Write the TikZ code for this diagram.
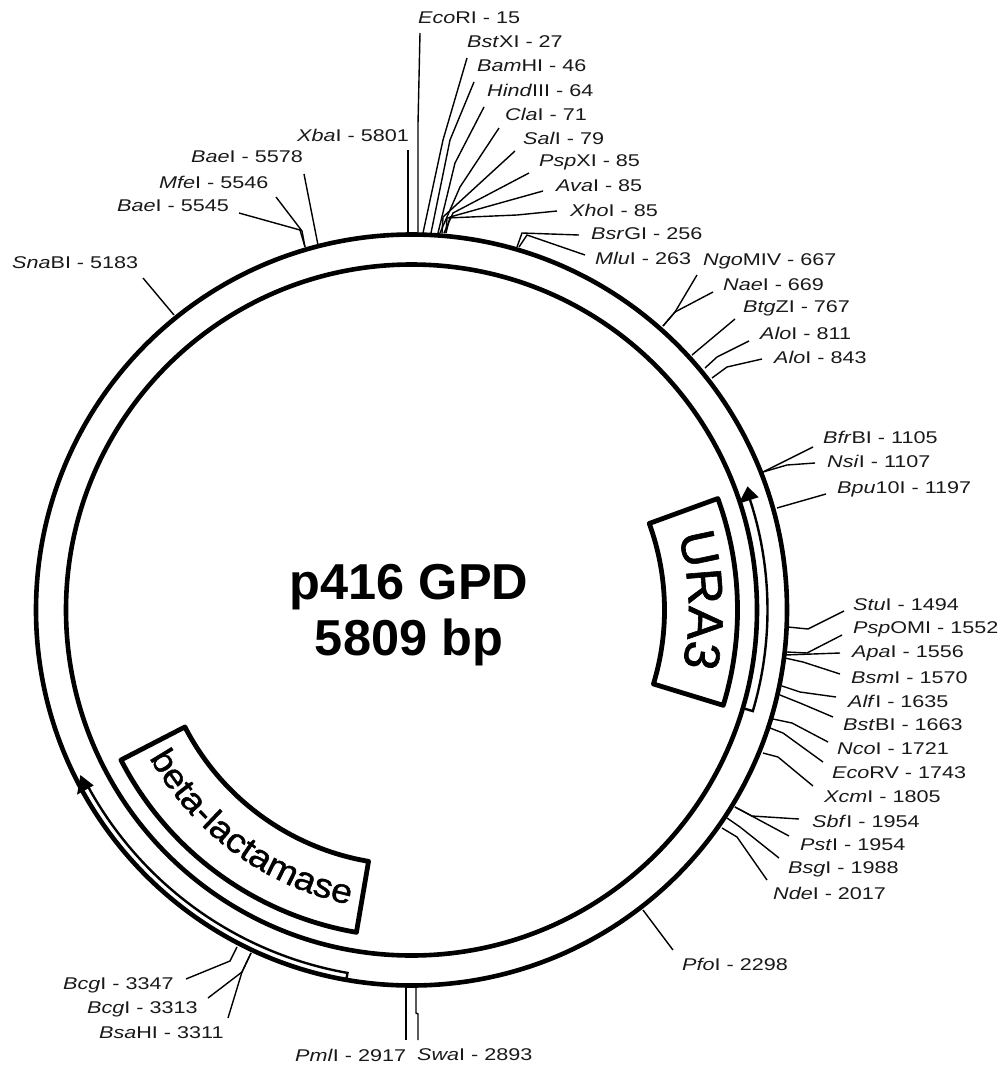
\documentclass[tikz,border=0pt]{standalone}
\usepackage{fontspec}
\setmainfont{Liberation Sans}
\newfontfamily\sitefont[FakeStretch=1.27]{Liberation Sans}
\newfontfamily\genefamily[FakeBold=1.2]{Liberation Sans}
\newfontfamily\lactfamily[FakeBold=1.2,FakeStretch=1.1]{Liberation Sans}
\usetikzlibrary{decorations.text}
\newcommand{\genefont}{\genefamily\fontsize{50}{50}\selectfont}
\newcommand{\lactfont}{\lactfamily\fontsize{34}{34}\selectfont}
\tikzset{
    ring/.style={line width=4.6pt},
    genebox/.style={line width=4.8pt,line join=round},
    strand/.style={line width=2.4pt},
    leader/.style={line width=1.4pt},
    sitelabel/.style={anchor=west,inner sep=0pt,font=\sitefont\fontsize{17}{18}\selectfont,text=black!90},
    plasmid/.style={align=center,inner sep=0pt,font=\bfseries\fontsize{50.5}{56}\selectfont}
}

\begin{document}
\begin{tikzpicture}[x=1pt,y=1pt]
        \useasboundingbox (0,0) rectangle (999,-1066);
        \begin{scope}[shift={(411.5,-610)}]
            \draw[ring] (0,0) circle [radius=375.5]; \draw[ring] (0,0) circle [radius=345.5];

            \draw[genebox] (20:253) arc [start angle=20,end angle=-17,radius=253] -- (-17:326) arc [start angle=-17,end angle=20,radius=326] -- cycle;
            \draw[strand] (18:356) arc [start angle=18,end angle=-16.5,radius=356] -- (-16.5:346); \fill (20.2:358) -- (18:344) -- (18:365) -- cycle;
            \path[decorate,decoration={text along path,text align=center,text={|\genefont|URA3}}] (18:277) arc [start angle=18,end angle=-14,radius=277];

            \draw[genebox] (207.3:255) arc [start angle=207.3,end angle=260.3,radius=255] -- (260.3:327) arc [start angle=260.3,end angle=207.3,radius=327] -- cycle;
            \draw[strand] (208.5:368.5) arc [start angle=208.5,end angle=260,radius=368.5] -- (260:374); \fill (206.5:370) -- (208.9:363) -- (208.9:382) -- cycle;
            \path[decorate,decoration={text along path,text align=center,text={|\lactfont|beta-lactamase}}] (207:301) arc [start angle=207,end angle=260.5,radius=301];
        \end{scope}

        \node[plasmid] (title) at (409,-615) {p416 GPD\\5809 bp};

        % top of the ring
        \node[sitelabel] (EcoRI) at (418,-18) {\textit{Eco}RI - 15}; \coordinate (EcoRIa) at (418,-235); \coordinate (EcoRIb) at (418,-124); \coordinate (EcoRIc) at (420,-33); \draw[leader] (EcoRIa) -- (EcoRIb) -- (EcoRIc);
        \node[sitelabel] (BstXI) at (467,-42) {\textit{Bst}XI - 27}; \coordinate (BstXIa) at (423,-233); \coordinate (BstXIb) at (443,-140); \coordinate (BstXIc) at (467,-58); \draw[leader] (BstXIa) -- (BstXIb) -- (BstXIc);
        \node[sitelabel] (BamHI) at (477,-66) {\textit{Bam}HI - 46}; \coordinate (BamHIa) at (431,-233); \coordinate (BamHIb) at (450,-140); \coordinate (BamHIc) at (474,-82); \draw[leader] (BamHIa) -- (BamHIb) -- (BamHIc);
        \node[sitelabel] (HindIII) at (487,-90) {\textit{Hind}III - 64}; \coordinate (HindIIIa) at (438,-233); \coordinate (HindIIIb) at (455,-163); \coordinate (HindIIIc) at (484,-107); \draw[leader] (HindIIIa) -- (HindIIIb) -- (HindIIIc);
        \node[sitelabel] (ClaI) at (505,-114) {\textit{Cla}I - 71}; \coordinate (ClaIa) at (440,-233); \coordinate (ClaIb) at (460,-187); \coordinate (ClaIc) at (499,-128); \draw[leader] (ClaIa) -- (ClaIb) -- (ClaIc);
        \node[sitelabel] (SalI) at (523,-138) {\textit{Sal}I - 79}; \coordinate (SalIa) at (442,-233); \coordinate (SalIb) at (443,-217); \coordinate (SalIc) at (515,-151); \draw[leader] (SalIa) -- (SalIb) -- (SalIc);
        \node[sitelabel] (PspXI) at (539,-162) {\textit{Psp}XI - 85}; \coordinate (PspXIa) at (444,-233); \coordinate (PspXIb) at (453,-213); \coordinate (PspXIc) at (529,-173); \draw[leader] (PspXIa) -- (PspXIb) -- (PspXIc);
        \node[sitelabel] (AvaI) at (556,-186) {\textit{Ava}I - 85}; \coordinate (AvaIa) at (446,-233); \coordinate (AvaIb) at (450,-217); \coordinate (AvaIc) at (543,-191); \draw[leader] (AvaIa) -- (AvaIb) -- (AvaIc);
        \node[sitelabel] (XhoI) at (570,-210) {\textit{Xho}I - 85}; \coordinate (XhoIa) at (446,-233); \coordinate (XhoIb) at (447,-218); \coordinate (XhoIc) at (517,-215); \coordinate (XhoId) at (557,-211); \draw[leader] (XhoIa) -- (XhoIb) -- (XhoIc) -- (XhoId);
        \node[sitelabel] (BsrGI) at (591,-234) {\textit{Bsr}GI - 256}; \coordinate (BsrGIa) at (517,-247); \coordinate (BsrGIb) at (522,-233); \coordinate (BsrGIc) at (579,-235); \draw[leader] (BsrGIa) -- (BsrGIb) -- (BsrGIc);
        \node[sitelabel] (MluI) at (595,-258) {\textit{Mlu}I - 263}; \coordinate (MluIa) at (519,-247); \coordinate (MluIb) at (527,-235); \coordinate (MluIc) at (585,-255); \draw[leader] (MluIa) -- (MluIb) -- (MluIc);
        \node[sitelabel] (XbaI) at (297,-135) {\textit{Xba}I - 5801}; \coordinate (XbaIa) at (408,-234); \coordinate (XbaIb) at (408,-150); \draw[leader] (XbaIa) -- (XbaIb);
        \node[sitelabel] (BaeIb) at (191,-157) {\textit{Bae}I - 5578}; \coordinate (BaeIba) at (318,-245); \coordinate (BaeIbb) at (304,-174); \draw[leader] (BaeIba) -- (BaeIbb);
        \node[sitelabel] (MfeI) at (159,-182) {\textit{Mfe}I - 5546}; \coordinate (MfeIa) at (305,-247); \coordinate (MfeIb) at (302,-231); \coordinate (MfeIc) at (276,-197); \draw[leader] (MfeIa) -- (MfeIb) -- (MfeIc);
        \node[sitelabel] (BaeIa) at (117,-206) {\textit{Bae}I - 5545}; \coordinate (BaeIaa) at (305,-247); \coordinate (BaeIab) at (300,-230); \coordinate (BaeIac) at (239,-213); \draw[leader] (BaeIaa) -- (BaeIab) -- (BaeIac);
        \node[sitelabel] (SnaBI) at (12,-263) {\textit{Sna}BI - 5183}; \coordinate (SnaBIa) at (174,-315); \coordinate (SnaBIb) at (143,-278); \draw[leader] (SnaBIa) -- (SnaBIb);

        % right side
        \node[sitelabel] (NgoMIV) at (703,-261) {\textit{Ngo}MIV - 667}; \coordinate (NgoMIVa) at (663,-326); \coordinate (NgoMIVb) at (675,-312); \coordinate (NgoMIVc) at (697,-275); \draw[leader] (NgoMIVa) -- (NgoMIVb) -- (NgoMIVc);
        \node[sitelabel] (NaeI) at (723,-285) {\textit{Nae}I - 669}; \coordinate (NaeIa) at (663,-326); \coordinate (NaeIb) at (675,-312); \coordinate (NaeIc) at (713,-292); \draw[leader] (NaeIa) -- (NaeIb) -- (NaeIc);
        \node[sitelabel] (BtgZI) at (743,-308) {\textit{Btg}ZI - 767}; \coordinate (BtgZIa) at (692,-355); \coordinate (BtgZIb) at (735,-319); \draw[leader] (BtgZIa) -- (BtgZIb);
        \node[sitelabel] (AloIa) at (760,-333) {\textit{Alo}I - 811}; \coordinate (AloIaa) at (705,-368); \coordinate (AloIab) at (717,-357); \coordinate (AloIac) at (749,-341); \draw[leader] (AloIaa) -- (AloIab) -- (AloIac);
        \node[sitelabel] (AloIb) at (774,-357) {\textit{Alo}I - 843}; \coordinate (AloIba) at (712,-378); \coordinate (AloIbb) at (727,-367); \coordinate (AloIbc) at (762,-359); \draw[leader] (AloIba) -- (AloIbb) -- (AloIbc);
        \node[sitelabel] (BfrBI) at (823,-437) {\textit{Bfr}BI - 1105}; \coordinate (BfrBIa) at (763,-472); \coordinate (BfrBIb) at (813,-447); \draw[leader] (BfrBIa) -- (BfrBIb);
        \node[sitelabel] (NsiI) at (827,-461) {\textit{Nsi}I - 1107}; \coordinate (NsiIa) at (763,-472); \coordinate (NsiIb) at (787,-465); \coordinate (NsiIc) at (815,-463); \draw[leader] (NsiIa) -- (NsiIb) -- (NsiIc);
        \node[sitelabel] (Bpu10I) at (837,-489) {\textit{Bpu}10I - 1197}; \coordinate (Bpu10Ia) at (777,-508); \coordinate (Bpu10Ib) at (826,-494); \draw[leader] (Bpu10Ia) -- (Bpu10Ib);
        \node[sitelabel] (StuI) at (853,-605) {\textit{Stu}I - 1494}; \coordinate (StuIa) at (788,-627); \coordinate (StuIb) at (808,-629); \coordinate (StuIc) at (844,-611); \draw[leader] (StuIa) -- (StuIb) -- (StuIc);
        \node[sitelabel] (PspOMI) at (853,-629) {\textit{Psp}OMI - 1552}; \coordinate (PspOMIa) at (787,-652); \coordinate (PspOMIb) at (807,-653); \coordinate (PspOMIc) at (842,-635); \draw[leader] (PspOMIa) -- (PspOMIb) -- (PspOMIc);
        \node[sitelabel] (ApaI) at (852,-653) {\textit{Apa}I - 1556}; \coordinate (ApaIa) at (785,-655); \coordinate (ApaIb) at (840,-653); \draw[leader] (ApaIa) -- (ApaIb);
        \node[sitelabel] (BsmI) at (851,-678) {\textit{Bsm}I - 1570}; \coordinate (BsmIa) at (785,-658); \coordinate (BsmIb) at (803,-662); \coordinate (BsmIc) at (840,-674); \draw[leader] (BsmIa) -- (BsmIb) -- (BsmIc);
        \node[sitelabel] (AlfI) at (848,-701) {\textit{Alf}I - 1635}; \coordinate (AlfIa) at (782,-686); \coordinate (AlfIb) at (800,-692); \coordinate (AlfIc) at (836,-697); \draw[leader] (AlfIa) -- (AlfIb) -- (AlfIc);
        \node[sitelabel] (BstBI) at (843,-725) {\textit{Bst}BI - 1663}; \coordinate (BstBIa) at (780,-695); \coordinate (BstBIb) at (800,-703); \coordinate (BstBIc) at (833,-717); \draw[leader] (BstBIa) -- (BstBIb) -- (BstBIc);
        \node[sitelabel] (NcoI) at (837,-749) {\textit{Nco}I - 1721}; \coordinate (NcoIa) at (773,-719); \coordinate (NcoIb) at (792,-723); \coordinate (NcoIc) at (828,-742); \draw[leader] (NcoIa) -- (NcoIb) -- (NcoIc);
        \node[sitelabel] (EcoRV) at (832,-773) {\textit{Eco}RV - 1743}; \coordinate (EcoRVa) at (770,-728); \coordinate (EcoRVb) at (783,-733); \coordinate (EcoRVc) at (823,-762); \draw[leader] (EcoRVa) -- (EcoRVb) -- (EcoRVc);
        \node[sitelabel] (XcmI) at (824,-797) {\textit{Xcm}I - 1805}; \coordinate (XcmIa) at (763,-753); \coordinate (XcmIb) at (778,-757); \coordinate (XcmIc) at (813,-786); \draw[leader] (XcmIa) -- (XcmIb) -- (XcmIc);
        \node[sitelabel] (SbfI) at (812,-821) {\textit{Sbf}I - 1954}; \coordinate (SbfIa) at (735,-807); \coordinate (SbfIb) at (752,-816); \coordinate (SbfIc) at (799,-819); \draw[leader] (SbfIa) -- (SbfIb) -- (SbfIc);
        \node[sitelabel] (PstI) at (800,-845) {\textit{Pst}I - 1954}; \coordinate (PstIa) at (735,-807); \coordinate (PstIb) at (789,-836); \draw[leader] (PstIa) -- (PstIb);
        \node[sitelabel] (BsgI) at (788,-869) {\textit{Bsg}I - 1988}; \coordinate (BsgIa) at (727,-818); \coordinate (BsgIb) at (740,-827); \coordinate (BsgIc) at (779,-858); \draw[leader] (BsgIa) -- (BsgIb) -- (BsgIc);
        \node[sitelabel] (NdeI) at (773,-893) {\textit{Nde}I - 2017}; \coordinate (NdeIa) at (722,-828); \coordinate (NdeIb) at (737,-837); \coordinate (NdeIc) at (767,-880); \draw[leader] (NdeIa) -- (NdeIb) -- (NdeIc);
        \node[sitelabel] (PfoI) at (682,-964) {\textit{Pfo}I - 2298}; \coordinate (PfoIa) at (643,-910); \coordinate (PfoIb) at (673,-950); \draw[leader] (PfoIa) -- (PfoIb);

        % bottom of the ring
        \node[sitelabel] (PmlI) at (295,-1055) {\textit{Pml}I - 2917}; \coordinate (PmlIa) at (406,-987); \coordinate (PmlIb) at (406,-1040); \draw[leader] (PmlIa) -- (PmlIb);
        \node[sitelabel] (SwaI) at (417,-1055) {\textit{Swa}I - 2893}; \coordinate (SwaIa) at (416,-987); \coordinate (SwaIb) at (416,-1013); \coordinate (SwaIc) at (418,-1014); \coordinate (SwaId) at (418,-1040); \draw[leader] (SwaIa) -- (SwaIb) -- (SwaIc) -- (SwaId);
        \node[sitelabel] (BcgIa) at (63,-985) {\textit{Bcg}I - 3347}; \coordinate (BcgIaa) at (237,-947); \coordinate (BcgIab) at (230,-961); \coordinate (BcgIac) at (186,-979); \draw[leader] (BcgIaa) -- (BcgIab) -- (BcgIac);
        \node[sitelabel] (BcgIb) at (87,-1009) {\textit{Bcg}I - 3313}; \coordinate (BcgIba) at (251,-953); \coordinate (BcgIbb) at (242,-972); \coordinate (BcgIbc) at (208,-998); \draw[leader] (BcgIba) -- (BcgIbb) -- (BcgIbc);
        \node[sitelabel] (BsaHI) at (99,-1033) {\textit{Bsa}HI - 3311}; \coordinate (BsaHIa) at (251,-953); \coordinate (BsaHIb) at (242,-972); \coordinate (BsaHIc) at (228,-1018); \draw[leader] (BsaHIa) -- (BsaHIb) -- (BsaHIc);
    \end{tikzpicture}
\end{document}
